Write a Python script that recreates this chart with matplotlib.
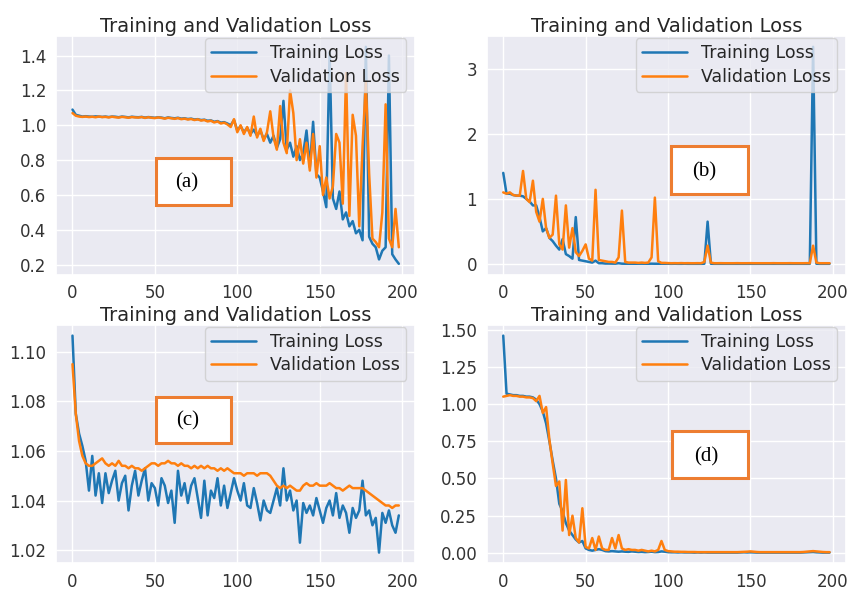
import matplotlib
matplotlib.use("Agg")
import matplotlib.pyplot as plt
from matplotlib.patches import Rectangle
import seaborn as sns

# epochs (every second epoch)
epochs = list(range(0, 200, 2))

# (a)
train_a = [1.09, 1.06, 1.055, 1.05, 1.052, 1.05, 1.049, 1.051, 1.05, 1.048,
           1.05, 1.047, 1.05, 1.049, 1.046, 1.05, 1.048, 1.045, 1.049, 1.047,
           1.046, 1.048, 1.044, 1.047, 1.045, 1.043, 1.046, 1.044, 1.04, 1.045,
           1.042, 1.04, 1.043, 1.038, 1.04, 1.036, 1.038, 1.033, 1.035, 1.03,
           1.032, 1.026, 1.028, 1.02, 1.024, 1.015, 1.018, 1.01, 1.0, 1.03,
           0.97, 0.995, 0.96, 0.985, 0.95, 0.975, 0.94, 0.97, 0.92, 0.95,
           0.9, 0.94, 0.87, 0.92, 1.14, 0.86, 0.9, 0.82, 0.88, 0.8,
           0.84, 0.97, 0.76, 1.02, 0.72, 0.7, 0.62, 0.53, 1.42, 0.58,
           0.52, 0.62, 0.46, 0.5, 0.42, 0.45, 0.38, 0.4, 0.34, 1.45,
           0.36, 0.32, 0.3, 0.23, 0.28, 0.3, 1.4, 0.26, 0.23, 0.205]
val_a = [1.07, 1.055, 1.05, 1.048, 1.05, 1.047, 1.049, 1.046, 1.05, 1.047,
         1.048, 1.045, 1.049, 1.046, 1.044, 1.048, 1.046, 1.043, 1.047, 1.045,
         1.044, 1.047, 1.042, 1.046, 1.043, 1.041, 1.045, 1.042, 1.038, 1.043,
         1.04, 1.037, 1.041, 1.035, 1.038, 1.033, 1.036, 1.03, 1.034, 1.027,
         1.03, 1.022, 1.026, 1.016, 1.022, 1.01, 1.015, 1.005, 0.99, 1.035,
         0.96, 1.0, 0.95, 0.99, 0.94, 1.05, 0.93, 0.98, 0.91, 0.96,
         1.08, 0.93, 0.86, 1.11, 0.9, 0.84, 1.2, 1.07, 0.8, 0.92,
         0.78, 0.9, 0.74, 0.95, 0.7, 0.88, 0.6, 0.7, 0.58, 0.65,
         0.95, 0.9, 0.55, 1.3, 0.48, 1.06, 0.94, 0.42, 0.88, 1.25,
         0.72, 0.35, 0.33, 0.3, 0.5, 1.12, 0.35, 0.3, 0.52, 0.3]

# (b)
train_b = [1.4, 1.08, 1.08, 1.06, 1.05, 1.05, 1.04, 1.0, 0.96, 0.9,
           0.9, 0.72, 0.5, 0.55, 0.4, 0.35, 0.28, 0.22, 0.38, 0.15,
           0.12, 0.08, 0.72, 0.06, 0.05, 0.04, 0.03, 0.02, 0.05, 0.01,
           0.01, 0.005, 0.005, 0.004, 0.003, 0.01, 0.003, 0.002, 0.002, 0.002,
           0.002, 0.002, 0.003, 0.002, 0.002, 0.003, 0.002, 0.002, 0.002, 0.002,
           0.002, 0.001, 0.002, 0.001, 0.001, 0.002, 0.001, 0.001, 0.001, 0.001,
           0.001, 0.002, 0.65, 0.002, 0.001, 0.001, 0.001, 0.001, 0.001, 0.001,
           0.001, 0.001, 0.001, 0.001, 0.001, 0.001, 0.001, 0.001, 0.001, 0.001,
           0.001, 0.001, 0.001, 0.001, 0.001, 0.001, 0.001, 0.001, 0.001, 0.001,
           0.001, 0.001, 0.001, 0.001, 3.34, 0.002, 0.001, 0.001, 0.001, 0.001]
val_b = [1.1, 1.08, 1.1, 1.06, 1.05, 1.05, 1.43, 1.0, 0.95, 1.28,
         0.8, 0.65, 1.0, 0.55, 0.4, 0.45, 1.05, 0.3, 0.22, 0.9,
         0.25, 0.55, 0.18, 0.12, 0.2, 0.3, 0.08, 0.05, 1.14, 0.06,
         0.05, 0.04, 0.03, 0.03, 0.02, 0.1, 0.82, 0.03, 0.02, 0.02,
         0.02, 0.015, 0.02, 0.015, 0.02, 0.1, 1.02, 0.04, 0.015, 0.015,
         0.012, 0.01, 0.011, 0.01, 0.012, 0.01, 0.011, 0.01, 0.01, 0.011,
         0.01, 0.03, 0.28, 0.02, 0.01, 0.01, 0.011, 0.01, 0.01, 0.01,
         0.01, 0.011, 0.01, 0.01, 0.01, 0.011, 0.01, 0.01, 0.01, 0.01,
         0.01, 0.01, 0.011, 0.01, 0.01, 0.01, 0.01, 0.011, 0.01, 0.01,
         0.01, 0.01, 0.011, 0.01, 0.28, 0.02, 0.01, 0.01, 0.01, 0.01]

# (c)
train_c = [1.1065, 1.075, 1.067, 1.062, 1.056, 1.044, 1.058, 1.042, 1.051, 1.039,
           1.051, 1.043, 1.048, 1.052, 1.04, 1.047, 1.05, 1.036, 1.046, 1.052,
           1.042, 1.048, 1.053, 1.04, 1.047, 1.045, 1.038, 1.049, 1.046, 1.039,
           1.044, 1.031, 1.052, 1.042, 1.047, 1.039, 1.046, 1.049, 1.041, 1.033,
           1.048, 1.034, 1.044, 1.041, 1.049, 1.038, 1.046, 1.037, 1.043, 1.049,
           1.044, 1.04, 1.047, 1.038, 1.037, 1.045, 1.039, 1.032, 1.04, 1.036,
           1.035, 1.04, 1.045, 1.038, 1.053, 1.04, 1.044, 1.036, 1.04, 1.023,
           1.039, 1.035, 1.038, 1.034, 1.041, 1.036, 1.031, 1.037, 1.04, 1.034,
           1.043, 1.033, 1.038, 1.035, 1.027, 1.037, 1.033, 1.036, 1.048, 1.034,
           1.036, 1.03, 1.033, 1.019, 1.035, 1.031, 1.036, 1.03, 1.027, 1.034]
val_c = [1.095, 1.075, 1.064, 1.058, 1.055, 1.054, 1.054, 1.055, 1.056, 1.057,
         1.055, 1.054, 1.055, 1.054, 1.056, 1.054, 1.054, 1.053, 1.054, 1.053,
         1.053, 1.052, 1.053, 1.054, 1.055, 1.055, 1.054, 1.055, 1.055, 1.056,
         1.055, 1.055, 1.054, 1.055, 1.054, 1.054, 1.053, 1.054, 1.053, 1.054,
         1.053, 1.054, 1.053, 1.053, 1.052, 1.053, 1.052, 1.053, 1.052, 1.051,
         1.051, 1.051, 1.050, 1.051, 1.051, 1.051, 1.050, 1.051, 1.051, 1.051,
         1.050, 1.048, 1.046, 1.045, 1.046, 1.045, 1.046, 1.045, 1.044, 1.044,
         1.046, 1.047, 1.046, 1.046, 1.047, 1.046, 1.046, 1.046, 1.047, 1.046,
         1.045, 1.045, 1.044, 1.045, 1.046, 1.045, 1.045, 1.045, 1.045, 1.044,
         1.043, 1.042, 1.041, 1.040, 1.039, 1.038, 1.038, 1.037, 1.038, 1.038]

# (d)
train_d = [1.46, 1.07, 1.065, 1.06, 1.06, 1.055, 1.055, 1.05, 1.05, 1.045,
           1.03, 1.0, 0.95, 0.87, 0.75, 0.62, 0.5, 0.33, 0.28, 0.2,
           0.15, 0.12, 0.09, 0.07, 0.08, 0.03, 0.02, 0.015, 0.02, 0.025,
           0.02, 0.012, 0.01, 0.012, 0.01, 0.008, 0.01, 0.008, 0.007, 0.01,
           0.008, 0.006, 0.007, 0.005, 0.006, 0.008, 0.005, 0.006, 0.01, 0.008,
           0.005, 0.004, 0.004, 0.003, 0.004, 0.003, 0.003, 0.003, 0.002, 0.003,
           0.002, 0.003, 0.002, 0.002, 0.002, 0.002, 0.002, 0.002, 0.002, 0.002,
           0.002, 0.002, 0.003, 0.004, 0.003, 0.004, 0.003, 0.002, 0.002, 0.002,
           0.002, 0.002, 0.002, 0.002, 0.002, 0.002, 0.002, 0.002, 0.002, 0.002,
           0.002, 0.003, 0.004, 0.005, 0.006, 0.004, 0.003, 0.002, 0.002, 0.002]
val_d = [1.05, 1.055, 1.06, 1.055, 1.055, 1.05, 1.05, 1.045, 1.045, 1.04,
         1.02, 1.055, 0.94, 0.98, 0.76, 0.6, 0.45, 0.48, 0.15, 0.49,
         0.12, 0.25, 0.1, 0.07, 0.3, 0.04, 0.03, 0.1, 0.02, 0.11,
         0.03, 0.02, 0.02, 0.1, 0.03, 0.12, 0.03, 0.02, 0.025, 0.02,
         0.02, 0.015, 0.02, 0.015, 0.01, 0.015, 0.01, 0.02, 0.08, 0.02,
         0.012, 0.01, 0.008, 0.008, 0.007, 0.007, 0.006, 0.006, 0.006, 0.005,
         0.005, 0.005, 0.005, 0.005, 0.005, 0.005, 0.005, 0.005, 0.005, 0.005,
         0.005, 0.005, 0.006, 0.007, 0.008, 0.01, 0.008, 0.006, 0.005, 0.005,
         0.005, 0.005, 0.005, 0.005, 0.005, 0.005, 0.005, 0.005, 0.005, 0.005,
         0.005, 0.006, 0.008, 0.01, 0.012, 0.01, 0.008, 0.006, 0.005, 0.005]

panels = [("(a)", train_a, val_a), ("(b)", train_b, val_b),
          ("(c)", train_c, val_c), ("(d)", train_d, val_d)]
# box corners (axes fraction) and label spot
boxes = [(0.278, 0.293, 0.209, 0.195, 0.364, 0.385),
         (0.514, 0.339, 0.214, 0.198, 0.604, 0.431),
         (0.278, 0.504, 0.209, 0.195, 0.366, 0.597),
         (0.516, 0.358, 0.210, 0.197, 0.610, 0.446)]

sns.set_theme(style="darkgrid")
plt.rcParams["font.family"] = ["DejaVu Sans"]

fig, axs = plt.subplots(2, 2, figsize=(8.51, 5.9), dpi=100)
fig.subplots_adjust(left=0.066, right=0.994, top=0.939, bottom=0.045,
                    wspace=0.2, hspace=0.21)

for ax, (lab, tr, va), (bx, by, bw, bh, tx, ty) in zip(axs.flat, panels, boxes):
    ax.plot(epochs, tr, color="#1f77b4", lw=1.8, label="Training Loss")
    ax.plot(epochs, va, color="#ff7f0e", lw=1.8, label="Validation Loss")
    ax.set_title("Training and Validation Loss", fontsize=14, color="0.15", pad=3)
    ax.tick_params(labelsize=12, colors="0.2", pad=1)
    ax.set_xticks([0, 50, 100, 150, 200])
    ax.legend(loc="upper right", bbox_to_anchor=(0.975, 0.99), borderaxespad=0,
              fontsize=12.5, labelspacing=0.3, handlelength=2.6, borderpad=0.35)
    ax.add_patch(Rectangle((bx, by), bw, bh, transform=ax.transAxes,
                           facecolor="white", edgecolor="#ED7D31", lw=2.2, zorder=5))
    ax.text(tx, ty, lab, transform=ax.transAxes, ha="center", va="center",
            family="Liberation Serif", fontsize=15, color="black", zorder=6)

axs[1, 1].set_yticks([0, 0.25, 0.5, 0.75, 1.0, 1.25, 1.5])
axs[1, 1].set_yticklabels(["0.00", "0.25", "0.50", "0.75", "1.00", "1.25", "1.50"])

fig.savefig("out.png")
